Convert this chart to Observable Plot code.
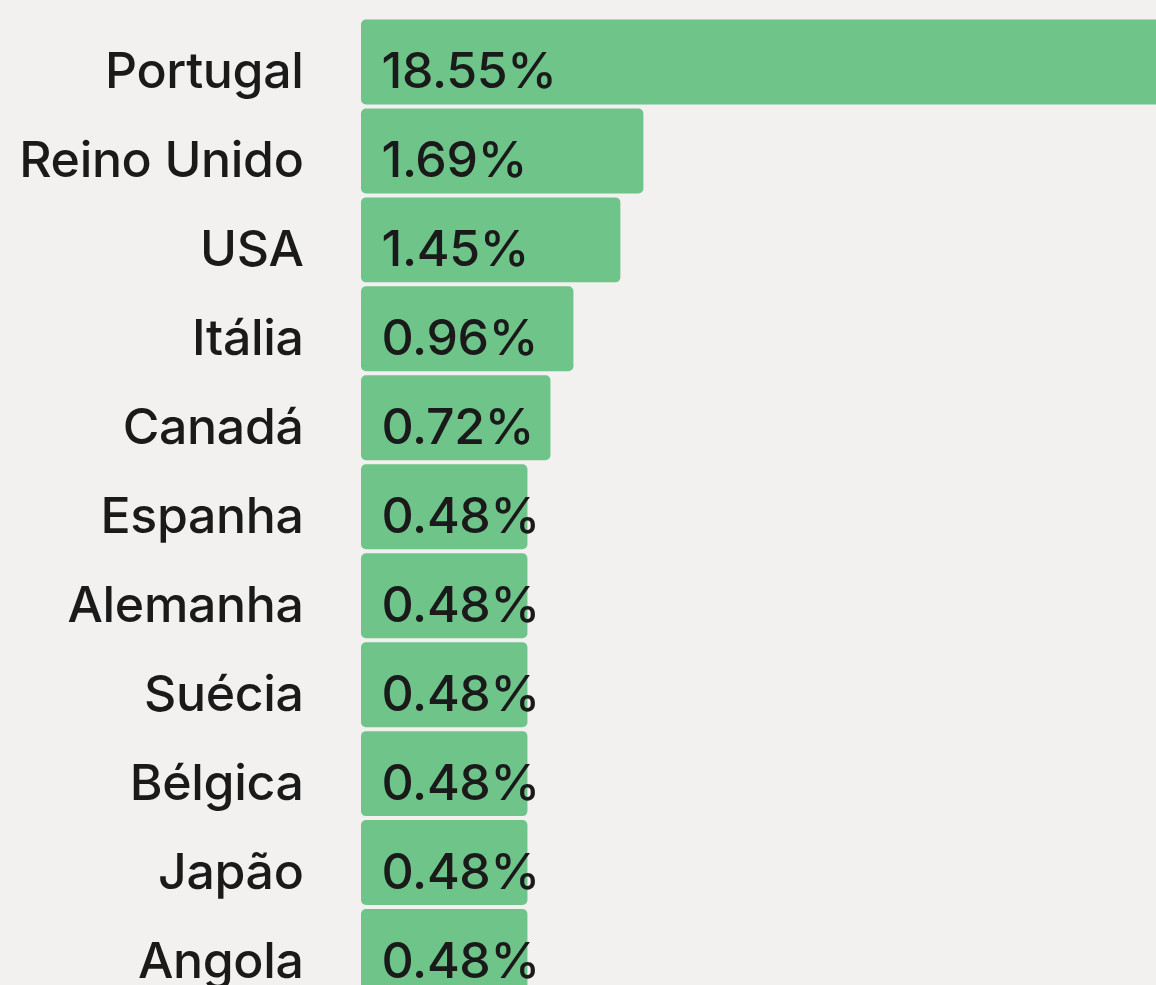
<!DOCTYPE html>
<html><head><meta charset="utf-8">
<script src="https://cdn.jsdelivr.net/npm/d3@7"></script>
<script src="https://cdn.jsdelivr.net/npm/@observablehq/plot@0.6"></script>
<style>html,body{margin:0;padding:0;background:#f2f1ef;overflow:hidden;}</style>
</head><body><div id="chart"></div>
<script>
const countries = ["Portugal","Reino Unido","USA","Itália","Canadá","Espanha","Alemanha","Suécia","Bélgica","Japão","Angola"];
const shares = [18.55,1.69,1.45,0.96,0.72,0.48,0.48,0.48,0.48,0.48,0.48];
const labels = ["18.55%","1.69%","1.45%","0.96%","0.72%","0.48%","0.48%","0.48%","0.48%","0.48%","0.48%"];
const rows = countries.map((c,i)=>({country:c, share:shares[i], label:labels[i]}));
const xStart = -1.257, xEnd = 7.04;
const chart = Plot.plot({
  width:1156, height:994, marginLeft:361, marginRight:0, marginTop:19.5, marginBottom:0,
  style:{background:"#f2f1ef", fontFamily:"Inter, sans-serif", color:"#1a1a1a", overflow:"hidden", letterSpacing:"-0.035em"},
  x:{domain:[xStart,xEnd], axis:null},
  y:{domain:countries, axis:null, paddingInner:0.045, paddingOuter:0, round:false},
  marks:[
    Plot.barX(rows,{x1:xStart, x2:"share", y:"country", fill:"#6fc48a", rx:5}),
    Plot.text(rows,{x:xStart, y:"country", text:"label", textAnchor:"start", dx:20, dy:10, fontSize:50, fontWeight:500, fill:"#1a1a1a"}),
    Plot.text(rows,{x:xStart, y:"country", text:"country", textAnchor:"end", dx:-58, dy:10, fontSize:50, fontWeight:500, fill:"#1a1a1a"})
  ]
});
document.getElementById("chart").appendChild(chart);
</script>
</body></html>
